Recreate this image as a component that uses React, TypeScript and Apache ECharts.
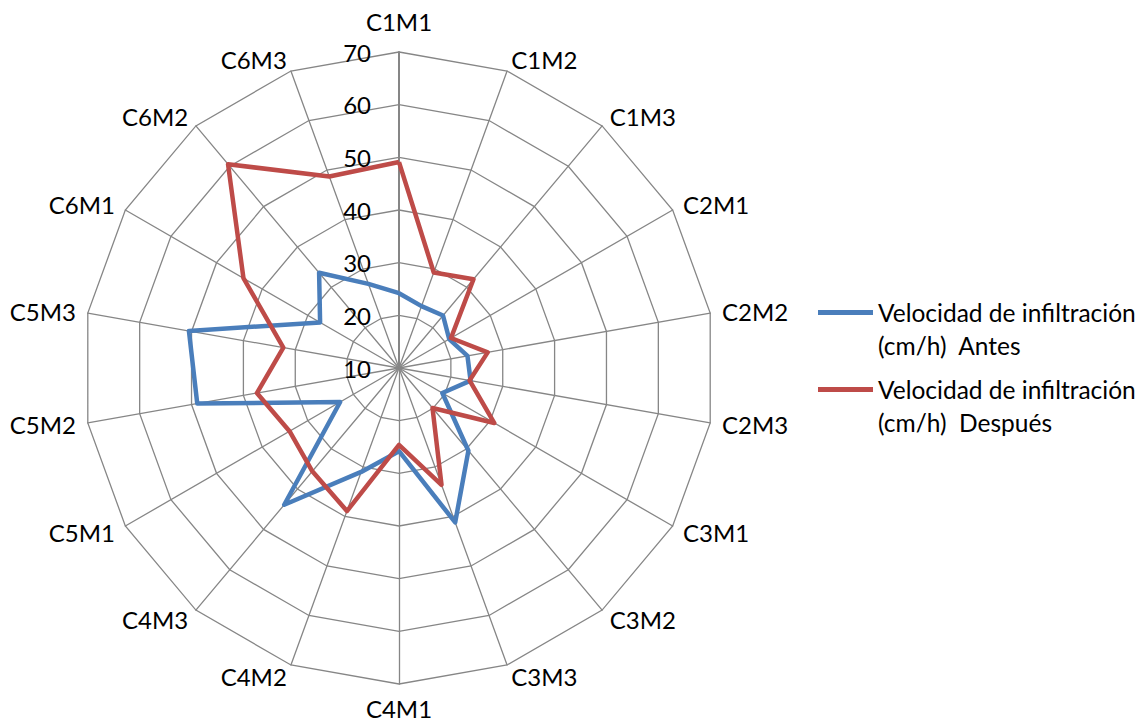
import React, { useEffect, useRef } from 'react';
import * as echarts from 'echarts';

const categories = [
  'C1M1', 'C1M2', 'C1M3', 'C2M1', 'C2M2', 'C2M3',
  'C3M1', 'C3M2', 'C3M3', 'C4M1', 'C4M2', 'C4M3',
  'C5M1', 'C5M2', 'C5M3', 'C6M1', 'C6M2', 'C6M3',
];
const antes = [
  24.2, 22.5, 23.0, 21.0, 23.2, 23.8,
  19.5, 30.5, 41.2, 25.8, 31.0, 43.9,
  22.9, 48.9, 50.5, 27.3, 33.6, 27.0,
];
const despues = [
  49.1, 29.3, 32.0, 21.4, 27.1, 23.6,
  30.9, 19.9, 33.6, 24.6, 38.9, 35.6,
  34.0, 37.4, 32.3, 44.1, 60.5, 48.7,
];
const seriesNames = [
  'Velocidad de infiltración (cm/h)  Antes',
  'Velocidad de infiltración (cm/h)  Después',
];
const seriesColors = ['#4a7ebb', '#be4b48'];
const axisMin = 10;
const axisMax = 70;
const axisStep = 10;

const FONT = 'Lato';

export default function App() {
  const ref = useRef<HTMLDivElement>(null);
  useEffect(() => {
    if (!ref.current) return;
    const chart = echarts.init(ref.current, undefined, { renderer: 'svg' });
    // ECharts places radar indicators counter-clockwise; the reference runs clockwise.
    const order = categories.map((_, i) => (i === 0 ? 0 : categories.length - i));
    const indicator = order.map((k, j) => {
      const base: any = { name: categories[k], min: axisMin, max: axisMax };
      if (j === 0) {
        base.axisLabel = {
          show: true,
          color: '#000',
          fontFamily: FONT,
          fontSize: 24,
          margin: 28,
        };
        base.axisLine = { lineStyle: { color: '#868686', width: 2 } };
      }
      return base;
    });
    const values = [antes, despues];
    chart.setOption({
      animation: false,
      backgroundColor: '#fff',
      radar: {
        center: [399, 368],
        radius: 316,
        startAngle: 90,
        splitNumber: (axisMax - axisMin) / axisStep,
        shape: 'polygon',
        indicator,
        nameGap: 12,
        axisName: {
          color: '#000',
          fontFamily: FONT,
          fontSize: 24,
          padding: [0, 0, 7, 0],
        },
        splitLine: { lineStyle: { color: '#868686', width: 1.3 } },
        splitArea: { show: false },
        axisLine: { lineStyle: { color: '#868686', width: 1.3 } },
        axisTick: { show: false },
        axisLabel: { show: false },
      },
      legend: {
        orient: 'vertical',
        left: 813,
        top: 258,
        icon: 'rect',
        itemWidth: 55,
        itemHeight: 5,
        itemGap: -22,
        data: seriesNames,
        formatter: (n: string) => '\n' + n.replace(' (cm/h)', '\n(cm/h)'),
        textStyle: {
          fontFamily: FONT,
          fontSize: 24.5,
          lineHeight: 33,
          color: '#000',
        },
      },
      series: [
        {
          type: 'radar',
          symbol: 'none',
          data: values.map((arr, s) => ({
            name: seriesNames[s],
            value: order.map((k) => arr[k]),
            lineStyle: { color: seriesColors[s], width: 4.5 },
            itemStyle: { color: seriesColors[s] },
          })),
        },
      ],
    });
    return () => chart.dispose();
  }, []);
  return (
    <div
      ref={ref}
      style={{ position: 'fixed', left: 0, top: 0, width: 1146, height: 725 }}
    />
  );
}
